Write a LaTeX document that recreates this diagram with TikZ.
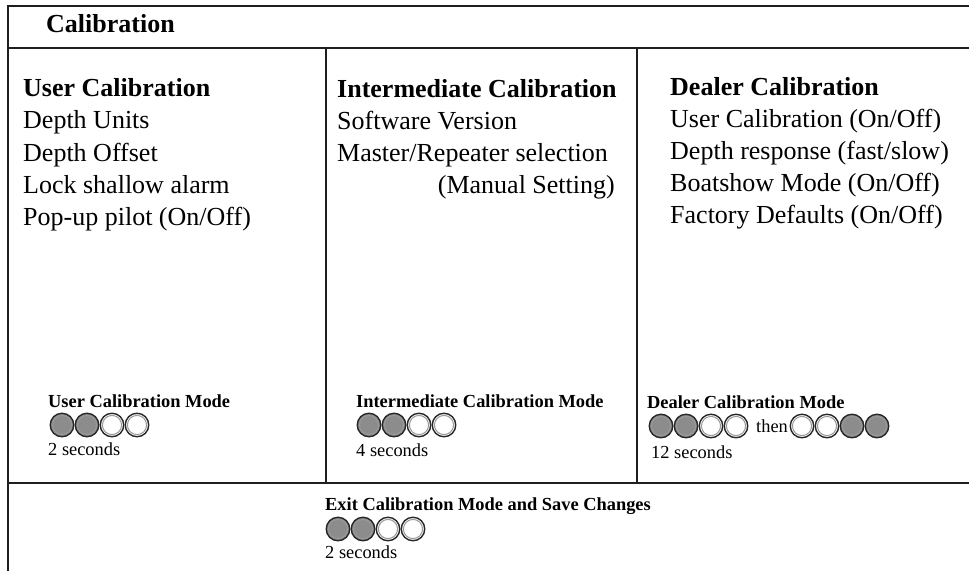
\documentclass[tikz,border=0pt]{standalone}
\usepackage{fontspec}
\setmainfont{Liberation Serif}
\begin{document}
\begin{tikzpicture}[x=1pt,y=-1pt,
  frame/.style={line width=2pt, draw=black!88},
  big/.style={font=\fontsize{26}{30}\selectfont, anchor=base west, inner sep=0pt},
  bigb/.style={big, font=\fontsize{26}{30}\selectfont\bfseries},
  small/.style={font=\fontsize{18.4}{22}\selectfont, anchor=base west, inner sep=0pt},
  smallb/.style={small, font=\fontsize{18.4}{22}\selectfont\bfseries},
  lamp/.style={circle, draw=black!85, line width=1.4pt, minimum size=23.5pt, inner sep=0pt,
    path picture={\draw[black!40, line width=1pt] (path picture bounding box.center) circle (9.6pt);}},
  lampon/.style={lamp, fill=black!45},
  lampoff/.style={lamp, fill=white}]
\useasboundingbox (0,0) rectangle (969,571);

% frame
\draw[frame] (969,6) -- (8,6) -- (8,571);
\draw[frame] (8,48) -- (969,48);
\draw[frame] (8,483) -- (969,483);
\draw[frame] (326,48) -- (326,483);
\draw[frame] (637,48) -- (637,483);

% title
\node[bigb] (title) at (46,32) {Calibration};

% column 1
\node[bigb] (u0) at (23,96) {User Calibration};
\node[big] (u1) at (23,128) {Depth Units};
\node[big] (u2) at (23,161) {Depth Offset};
\node[big] (u3) at (23,193) {Lock shallow alarm};
\node[big] (u4) at (23,225) {Pop-up pilot (On/Off)};

% column 2
\node[bigb] (i0) at (337,97) {Intermediate Calibration};
\node[big] (i1) at (337,129) {Software Version};
\node[big] (i2) at (337,161) {Master/Repeater selection};
\node[big, anchor=base east] (i3) at (615,193) {(Manual Setting)};

% column 3
\node[bigb] (d0) at (670,95) {Dealer Calibration};
\node[big] (d1) at (670,127) {User Calibration (On/Off)};
\node[big] (d2) at (670,159) {Depth response (fast/slow)};
\node[big] (d3) at (670,191) {Boatshow Mode (On/Off)};
\node[big] (d4) at (670,223) {Factory Defaults (On/Off)};

% user mode
\node[smallb] (um) at (48,407) {User Calibration Mode};
\foreach \i/\s in {0/lampon,1/lampon,2/lampoff,3/lampoff}
  \node[\s] (ul\i) at (62+25*\i,425) {};
\node[small] (us) at (48,455) {2 seconds};

% intermediate mode
\node[smallb] (im) at (356,407) {Intermediate Calibration Mode};
\foreach \i/\s in {0/lampon,1/lampon,2/lampoff,3/lampoff}
  \node[\s] (il\i) at (369+25*\i,425) {};
\node[small] (is) at (356,456) {4 seconds};

% dealer mode
\node[smallb] (dm) at (647,408) {Dealer Calibration Mode};
\foreach \i/\s in {0/lampon,1/lampon,2/lampoff,3/lampoff}
  \node[\s] (dl\i) at (661+25*\i,426) {};
\node[small] (then) at (756,432) {then};
\foreach \i/\s in {0/lampoff,1/lampoff,2/lampon,3/lampon}
  \node[\s] (dr\i) at (802+25*\i,426) {};
\node[small] (ds) at (651,458) {12 seconds};

% exit
\node[smallb] (em) at (325,510) {Exit Calibration Mode and Save Changes};
\foreach \i/\s in {0/lampon,1/lampon,2/lampoff,3/lampoff}
  \node[\s] (el\i) at (338+25*\i,529) {};
\node[small] (es) at (325,558) {2 seconds};
\end{tikzpicture}
\end{document}
